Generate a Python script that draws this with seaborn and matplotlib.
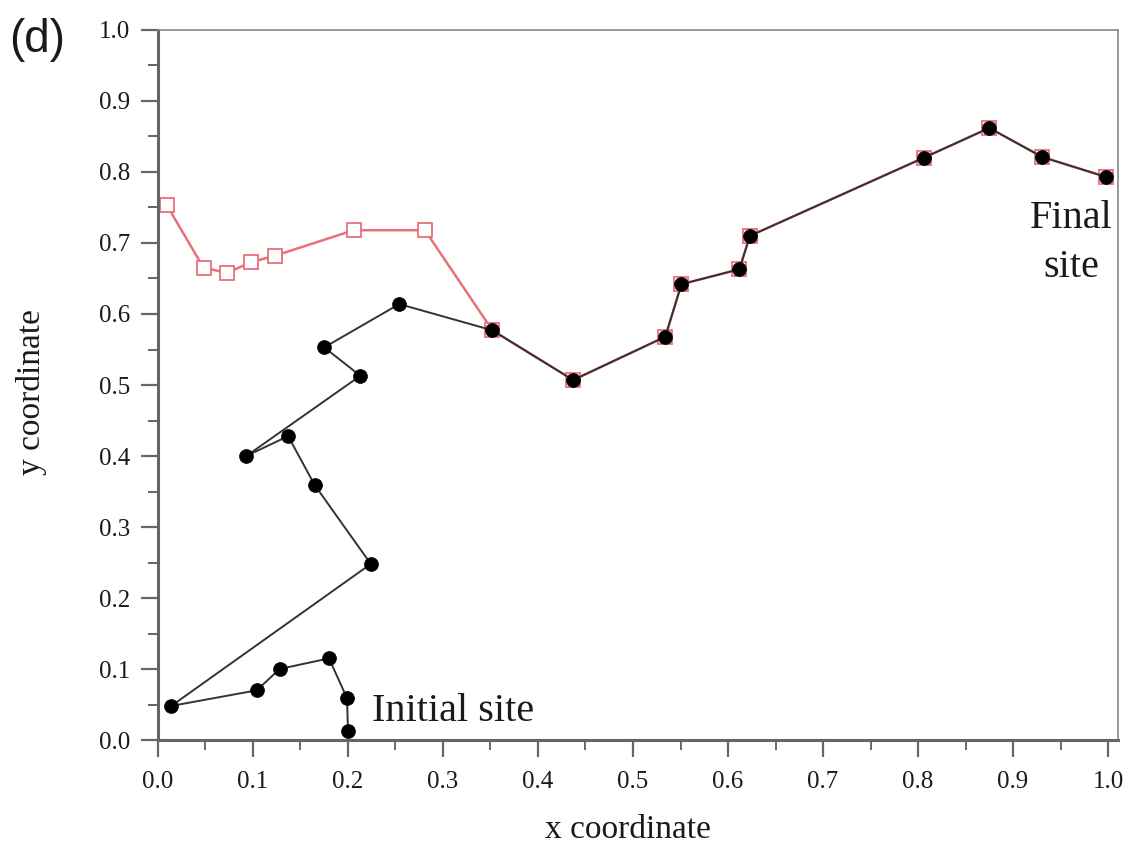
import matplotlib
matplotlib.use("Agg")
import matplotlib.pyplot as plt
import seaborn as sns
import numpy as np
from matplotlib.ticker import MultipleLocator, FormatStrFormatter

# Black trajectory (from initial site to final site)
black_x = [0.200, 0.199, 0.180, 0.128, 0.104, 0.014, 0.224, 0.165, 0.137, 0.093,
           0.213, 0.175, 0.254, 0.352, 0.437, 0.534, 0.551, 0.612, 0.623, 0.806,
           0.875, 0.931, 0.998]
black_y = [0.013, 0.059, 0.115, 0.100, 0.070, 0.048, 0.248, 0.359, 0.428, 0.400,
           0.513, 0.553, 0.614, 0.577, 0.507, 0.568, 0.642, 0.663, 0.710, 0.820,
           0.862, 0.821, 0.793]

# Red trajectory (hollow squares)
red_x = [0.009, 0.048, 0.073, 0.098, 0.123, 0.206, 0.281, 0.352, 0.437, 0.534,
         0.551, 0.612, 0.623, 0.806, 0.875, 0.931, 0.998]
red_y = [0.754, 0.665, 0.658, 0.673, 0.682, 0.718, 0.718, 0.577, 0.507, 0.568,
         0.642, 0.663, 0.710, 0.820, 0.862, 0.821, 0.793]

sns.set_style("white")
plt.rcParams['font.family'] = ['Liberation Serif', 'DejaVu Serif']
plt.rcParams['text.color'] = '#1a1a1a'
plt.rcParams['xtick.labelcolor'] = '#1a1a1a'
plt.rcParams['ytick.labelcolor'] = '#1a1a1a'
plt.rcParams['axes.labelcolor'] = '#1a1a1a'

fig = plt.figure(figsize=(11.34, 8.47), dpi=100)
ax = fig.add_axes([0.1393, 0.1263, 0.8466, 0.8383])

red = '#e8707a'
sns.lineplot(x=red_x, y=red_y, sort=False, ax=ax, color=red, linewidth=1.8,
             marker='s', markersize=10, markerfacecolor='white',
             markeredgecolor=red, markeredgewidth=1.3, zorder=2)
sns.lineplot(x=black_x, y=black_y, sort=False, ax=ax, color='#333333', linewidth=1.4,
             marker='o', markersize=10, markerfacecolor='black',
             markeredgecolor='black', markeredgewidth=0.5, zorder=3)

ax.set_xlim(0, 1.0105)
ax.set_ylim(0, 1.0)
ax.xaxis.set_major_locator(MultipleLocator(0.1))
ax.xaxis.set_minor_locator(MultipleLocator(0.05))
ax.yaxis.set_major_locator(MultipleLocator(0.1))
ax.yaxis.set_minor_locator(MultipleLocator(0.05))
ax.xaxis.set_major_formatter(FormatStrFormatter('%.1f'))
ax.yaxis.set_major_formatter(FormatStrFormatter('%.1f'))

spine_c = '#666666'
for s in ['top', 'right']:
    ax.spines[s].set_color('#888888')
    ax.spines[s].set_linewidth(1.2)
for s in ['left', 'bottom']:
    ax.spines[s].set_color(spine_c)
    ax.spines[s].set_linewidth(2.2)

ax.tick_params(which='major', direction='out', length=12, width=1.6, color=spine_c,
               labelsize=18, bottom=True, left=True, top=False, right=False)
ax.tick_params(axis='x', which='major', pad=10)
ax.tick_params(axis='y', which='major', pad=8)
ax.tick_params(which='minor', direction='out', length=7, width=1.4, color=spine_c,
               bottom=True, left=True, top=False, right=False)

ax.set_xlabel('x coordinate', fontsize=24, labelpad=14)
ax.set_ylabel('y coordinate', fontsize=24, labelpad=18)
ax.xaxis.set_label_coords(0.49, -0.105)
ax.yaxis.set_label_coords(-0.116, 0.49)

ax.text(0.225, 0.040, 'Initial site', fontsize=29, ha='left', va='center')
ax.text(0.961, 0.700, 'Final\nsite', fontsize=29, ha='center', va='center',
        linespacing=1.4)

fig.text(0.008, 0.953, '(d)', fontsize=33, family=['Liberation Sans', 'DejaVu Sans'],
         ha='left', va='center')

fig.savefig('out.png', dpi=100)
